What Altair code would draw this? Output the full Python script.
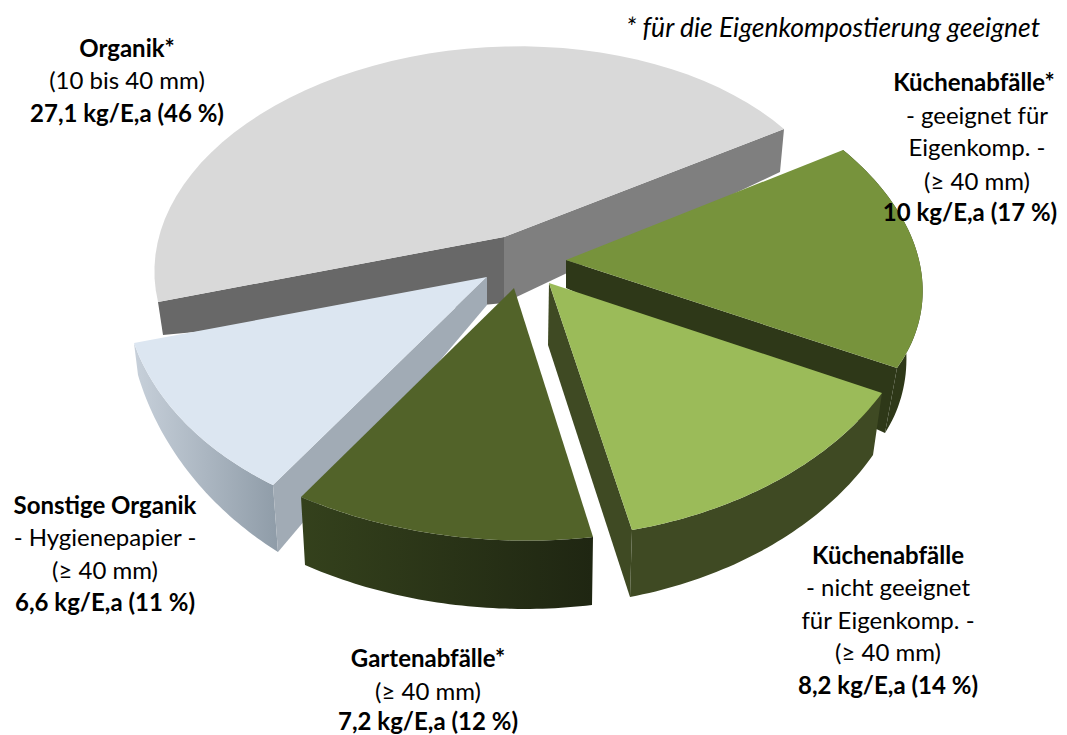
import math
import altair as alt

# ---- chart values ----
categories = ["Organik*", "Küchenabfälle*", "Küchenabfälle", "Gartenabfälle*", "Sonstige Organik"]
values = [27.1, 10.0, 8.2, 7.2, 6.6]
total = sum(values)
span = {c: v / total * 2 * math.pi for c, v in zip(categories, values)}

# ---- view of each exploded, tilted slice (perspective anchors) ----
view = {
    "Organik*": dict(top=((504, 237), (784, 129), (158, 302)), bot=((504, 303), (780, 172), (163, 335)),
                     centre=(500, 260), warp=0.93),
    "Küchenabfälle*": dict(top=((566, 260), (843, 150), (897, 368)), bot=((566, 288), (825, 195), (885, 433))),
    "Küchenabfälle": dict(top=((549, 283), (882, 393), (632, 530)), bot=((548, 345), (873, 455), (630, 597))),
    "Gartenabfälle*": dict(top=((514, 288), (593, 537), (301, 497)), bot=((514, 350), (592, 605), (305, 565))),
    "Sonstige Organik": dict(top=((487, 277), (134, 343), (273, 485)), bot=((487, 305), (138, 375), (278, 552))),
}

TOP = {"Organik*": "#d9d9d9", "Küchenabfälle*": "#77933c", "Küchenabfälle": "#9bbb59",
       "Gartenabfälle*": "#526329", "Sonstige Organik": "#dce6f1"}


def rim(p, phi, centre=None, n=48):
    c = centre or p[0]
    ax, ay = p[1][0] - c[0], p[1][1] - c[1]
    ux, uy = p[2][0] - c[0], p[2][1] - c[1]
    bx = (ux - ax * math.cos(phi)) / math.sin(phi)
    by = (uy - ay * math.cos(phi)) / math.sin(phi)
    pts = []
    for i in range(n + 1):
        t = phi * i / n
        pts.append([c[0] + ax * math.cos(t) + bx * math.sin(t),
                    c[1] + ay * math.cos(t) + by * math.sin(t)])
    return pts


def poly(points, fill):
    ring = [list(p) for p in points]
    ring.append(ring[0])
    feature = {"type": "Feature", "properties": {}, "geometry": {"type": "Polygon", "coordinates": [ring]}}
    return alt.Chart(alt.InlineData(values=[feature])).mark_geoshape(fill=fill, stroke=None, strokeWidth=0)


def grad(c0, c1):
    return alt.LinearGradient(gradient="linear", x1=0, x2=1, y1=0, y2=0,
                              stops=[alt.GradientStop(color=c0, offset=0), alt.GradientStop(color=c1, offset=1)])


def parts(name):
    v = view[name]
    phi = span[name] * v.get("warp", 1)
    c = v.get("centre")
    top = rim(v["top"], phi, c)
    cb = (c[0], c[1] + v["bot"][0][1] - v["top"][0][1]) if c else None
    bot = rim(v["bot"], phi, cb)
    return v, top, bot


layers = []

# Organik
v, top, bot = parts("Organik*")
A, P0, P1 = v["top"]
B, Q0, Q1 = v["bot"]
layers.append(poly([A, P0, Q0, B], "#7f7f7f"))
layers.append(poly([A, P1, Q1, B], "#686868"))
layers.append(poly([A] + top, TOP["Organik*"]))

# Küchenabfälle*
v, top, bot = parts("Küchenabfälle*")
A, P0, P1 = v["top"]
B, Q0, Q1 = v["bot"]
layers.append(poly(top + bot[::-1], "#2e3818"))
layers.append(poly([A, P1, Q1, B], "#2e3818"))
layers.append(poly([A] + top, TOP["Küchenabfälle*"]))

# Sonstige Organik
v, top, bot = parts("Sonstige Organik")
A, P0, P1 = v["top"]
B, Q0, Q1 = v["bot"]
layers.append(poly(top + bot[::-1], grad("#c7d0da", "#8f9ca8")))
layers.append(poly([A, P1, Q1, B], "#a1abb5"))
layers.append(poly([A] + top, TOP["Sonstige Organik"]))

# Gartenabfälle*
v, top, bot = parts("Gartenabfälle*")
A, P0, P1 = v["top"]
layers.append(poly(top + bot[::-1], grad("#34411c", "#1f2612")))
layers.append(poly([A] + top, TOP["Gartenabfälle*"]))

# Küchenabfälle
v, top, bot = parts("Küchenabfälle")
A, P0, P1 = v["top"]
B, Q0, Q1 = v["bot"]
layers.append(poly([A, P1, Q1, B], "#3f4a23"))
layers.append(poly(top + bot[::-1], "#3f4a23"))
layers.append(poly([A] + top, TOP["Küchenabfälle"]))

# ---- labels ----
bold_text = ["Organik*", "27,1 kg/E,a (46 %)", "Küchenabfälle*", "10 kg/E,a (17 %)", "Sonstige Organik",
             "6,6 kg/E,a (11 %)", "Gartenabfälle*", "7,2 kg/E,a (12 %)", "Küchenabfälle", "8,2 kg/E,a (14 %)"]
bold_x = [127, 127, 974, 970, 105, 105, 428, 428, 888, 888]
bold_y = [50, 115, 84, 214, 507, 604, 660, 723, 557, 687]

plain_text = ["(10 bis 40 mm)", "- geeignet für", "Eigenkomp. -", "(≥ 40 mm)", "- Hygienepapier -", "(≥ 40 mm)",
              "(≥ 40 mm)", "- nicht geeignet", "für Eigenkomp. -", "(≥ 40 mm)"]
plain_x = [127, 977, 977, 977, 105, 105, 428, 888, 888, 888]
plain_y = [82, 117, 149, 183, 539, 572, 693, 589, 622, 654]

note_text = ["* für die Eigenkompostierung geeignet"]
note_x = [833]
note_y = [29]


def text_layer(texts, xs, ys, size, **kw):
    rows = [{"t": t, "lon": x, "lat": y} for t, x, y in zip(texts, xs, ys)]
    return alt.Chart(alt.InlineData(values=rows)).mark_text(
        font="Lato", fontSize=size, color="#000000", align="center", baseline="middle", **kw
    ).encode(longitude="lon:Q", latitude="lat:Q", text="t:N")


layers.append(text_layer(plain_text, plain_x, plain_y, 24))
layers.append(text_layer(bold_text, bold_x, bold_y, 24, fontWeight="bold"))
layers.append(text_layer(note_text, note_x, note_y, 26.5, fontStyle="italic"))

chart = (
    alt.layer(*layers)
    .project(type="identity", scale=1, translate=[-8, -8])
    .properties(width=1051, height=727, padding=0, autosize=alt.AutoSizeParams(type="none"), background="#ffffff")
    .configure_view(stroke=None)
)

chart.save("out.html", embed_options={"renderer": "svg", "actions": False})
